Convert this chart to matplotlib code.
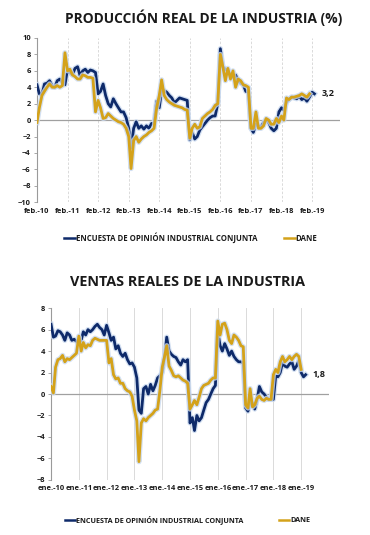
import matplotlib
matplotlib.use("Agg")
import matplotlib.pyplot as plt
import matplotlib.patheffects as pe
import pandas as pd

plt.rcParams['font.family'] = ['Open Sans', 'DejaVu Sans']

# --- Producción real de la industria (%), mensual desde feb.-10 ---
prod_eoic = [
    4.3, 3.2, 3.1, 4.4, 4.5, 4.8, 4.2, 4.0, 4.8, 5.0, 4.5, 4.3,        # feb-10 .. ene-11
    6.2, 5.8, 5.5, 6.3, 6.5, 5.4, 6.0, 6.2, 5.8, 6.1, 6.0, 5.8,        # feb-11 .. ene-12
    3.2, 3.5, 4.4, 3.0, 2.0, 1.6, 2.6, 2.0, 1.5, 1.0, 1.0, 0.3,        # feb-12 .. ene-13
    -1.0, -3.4, -1.0, -0.2, -1.0, -0.7, -1.1, -0.7, -1.0, -0.4, -0.5, 2.3,
    1.5, 3.6, 3.6, 3.4, 3.0, 2.7, 2.1, 2.4, 2.7, 2.6, 2.5, 2.4,
    -2.4, -1.5, -2.3, -2.0, -1.2, -0.8, -0.4, 0.0, 0.3, 0.5, 0.5, 2.0,
    8.7, 6.5, 6.2, 6.0, 5.5, 5.2, 5.5, 4.8, 4.5, 4.3, 3.5, 3.4,
    -1.0, -1.5, -0.5, -0.7, -0.8, -0.3, 0.0, -0.3, -1.0, -1.3, -1.0, 1.0,
    1.5, 1.2, 2.2, 2.5, 2.8, 2.7, 2.6, 2.9, 2.5, 2.7, 2.3, 2.8,
    3.4, 3.2,                                                          # feb-19 .. mar-19
]
prod_dane = [
    -0.3, 1.5, 3.0, 3.5, 4.0, 4.4, 4.0, 4.0, 4.2, 4.0, 4.2, 8.2,
    6.0, 6.2, 5.5, 5.3, 5.0, 5.0, 5.5, 5.4, 5.2, 5.2, 5.1, 1.0,
    2.4, 1.5, 0.2, 0.3, 0.8, 0.5, 0.2, 0.0, -0.2, -0.3, -0.5, -1.0,
    -2.0, -5.9, -2.5, -2.0, -2.7, -2.3, -2.0, -1.8, -1.5, -1.3, -1.0, 1.5,
    3.0, 4.9, 3.0, 2.5, 2.2, 2.0, 1.8, 1.7, 1.6, 1.5, 1.3, 1.2,
    -2.2, -1.0, -0.5, -1.0, -0.8, 0.2, 0.5, 0.8, 1.0, 1.3, 1.8, 2.0,
    8.0, 6.5, 4.8, 6.3, 5.0, 6.0, 4.0, 5.0, 4.8, 4.3, 4.2, 4.0,
    -1.0, -1.0, 1.0, -1.0, -1.0, -0.7, 0.2, 0.0, -0.5, -0.5, 0.2, -0.3,
    0.5, 0.0, 2.7, 2.5, 2.8, 2.8, 2.9, 3.0, 3.2, 3.0, 2.8, 3.2,
]

# --- Ventas reales de la industria (%), mensual desde ene.-10 ---
ventas_eoic = [
    6.5, 5.3, 5.4, 5.9, 5.8, 5.5, 5.0, 5.7, 5.5, 5.0, 5.1, 4.9,
    4.8, 5.0, 5.8, 5.5, 6.0, 5.8, 6.0, 6.3, 6.5, 6.2, 6.0, 5.5,
    6.4, 5.7, 5.0, 5.3, 4.2, 4.5, 3.8, 3.5, 3.8, 3.2, 2.8, 2.9,
    2.5, 1.5, -1.5, -1.8, 0.5, 0.7, 0.0, 0.9, 0.3, 0.8, 1.5, 1.7,
    2.0, 3.5, 5.3, 4.0, 3.7, 3.5, 3.4, 3.0, 2.7, 3.2, 3.0, 3.2,
    -2.7, -2.2, -3.4, -2.0, -2.5, -2.2, -1.5, -0.8, -0.5, 0.0, 0.5, 0.8,
    5.8, 4.5, 4.0, 4.7, 4.2, 3.6, 4.0, 3.5, 3.2, 3.0, 3.0, 2.9,
    -1.3, -1.6, -0.7, -0.8, -1.4, -0.5, 0.7, 0.2, 0.0, -0.3, -0.5, -0.5,
    -0.5, 1.7, 1.6, 2.0, 2.9, 2.6, 2.5, 2.8, 3.0, 2.3, 2.6, 3.1,
    2.0, 1.6, 1.8,
]
ventas_dane = [
    0.7, 0.1, 2.5, 3.2, 3.3, 3.6, 3.0, 3.3, 3.2, 3.4, 3.6, 3.8,
    5.4, 4.0, 4.8, 4.3, 4.6, 4.5, 5.0, 5.2, 5.1, 5.0, 5.0, 5.0,
    5.0, 2.9, 3.3, 1.8, 1.4, 1.5, 1.0, 1.0, 0.5, 0.3, 0.2, -0.2,
    -1.5, -2.5, -6.3, -2.7, -2.3, -2.5, -2.2, -2.0, -1.8, -1.5, -1.4, 0.3,
    2.5, 3.5, 4.5, 2.6, 2.2, 1.7, 1.6, 1.7, 1.5, 1.3, 1.2, 1.0,
    -1.4, -1.0, -0.6, -1.0, -0.3, 0.5, 0.8, 0.9, 1.0, 1.3, 1.5, 1.5,
    6.8, 5.5, 6.5, 6.6, 6.0, 5.0, 4.7, 5.5, 5.3, 5.0, 4.5, 4.4,
    -1.0, -1.3, 0.5, -1.2, -1.0, -0.4, -0.2, -0.5, -0.6, -0.4, -0.5, -0.5,
    1.8, 2.3, 2.0, 3.0, 3.5, 3.0, 3.2, 3.5, 3.2, 3.5, 3.7, 3.5,
    2.3,
]

NAVY = "#0e2a6a"
GOLD = "#d4a21a"
GLOW = "#c9d9ef"
TXT = "#1a1a1a"

prod_dates_e = pd.date_range("2010-02-01", periods=len(prod_eoic), freq="MS")
prod_dates_d = pd.date_range("2010-02-01", periods=len(prod_dane), freq="MS")
ven_dates_e = pd.date_range("2010-01-01", periods=len(ventas_eoic), freq="MS")
ven_dates_d = pd.date_range("2010-01-01", periods=len(ventas_dane), freq="MS")

fig = plt.figure(figsize=(3.7, 5.35), dpi=100)


def style_axes(ax, ymin, ymax, grid_dates, grid_ls):
    for s in ["top", "right", "bottom"]:
        ax.spines[s].set_visible(False)
    ax.spines["left"].set_color("#9a9a9a")
    ax.spines["left"].set_linewidth(0.8)
    ax.set_ylim(ymin, ymax)
    ax.set_yticks(range(ymin, ymax + 1, 2))
    ax.tick_params(axis="y", length=2.5, width=0.6, color="#9a9a9a", pad=2,
                   labelsize=5.4, labelcolor=TXT)
    ax.tick_params(axis="x", length=0, pad=4, labelsize=5.4, labelcolor=TXT)
    for lab in ax.get_xticklabels() + ax.get_yticklabels():
        lab.set_fontweight("bold")
    for d in grid_dates:
        ax.axvline(d, color="#d4d4d4", lw=0.6, ls=grid_ls, zorder=0)
    ax.axhline(0, color="#a0a0a0", lw=0.9, zorder=1)


def draw(ax, x, y, color):
    ax.plot(x, y, color=color, lw=2.0, zorder=3, solid_joinstyle="round",
            path_effects=[pe.Stroke(linewidth=3.8, foreground=GLOW, alpha=0.8),
                          pe.Normal()])


# ---------------- Producción ----------------
ax1 = fig.add_axes([0.1, 0.622, 0.819, 0.307])
draw(ax1, prod_dates_e, prod_eoic, NAVY)
draw(ax1, prod_dates_d, prod_dane, GOLD)
ax1.set_xlim(pd.Timestamp("2010-02-01"), pd.Timestamp("2020-01-01"))
feb_ticks = pd.date_range("2010-02-01", "2019-02-01", freq="12MS")
ax1.set_xticks(feb_ticks)
ax1.set_xticklabels([f"feb.-{d.year % 100:02d}" for d in feb_ticks])
style_axes(ax1, -10, 10, feb_ticks[1:], (0, (3, 2)))
ax1.annotate("3,2", xy=(prod_dates_e[-1], prod_eoic[-1]), xytext=(5, 0),
             textcoords="offset points", va="center", fontsize=6.5,
             fontweight="bold", color=TXT)

fig.text(0.551, 1 - 18 / 535, "PRODUCCIÓN REAL DE LA INDUSTRIA (%)",
         ha="center", va="center", fontsize=9.9, fontweight="bold", color=TXT)

# ---------------- Ventas ----------------
ax2 = fig.add_axes([0.138, 0.103, 0.751, 0.321])
draw(ax2, ven_dates_e, ventas_eoic, NAVY)
draw(ax2, ven_dates_d, ventas_dane, GOLD)
ax2.set_xlim(pd.Timestamp("2010-01-01"), pd.Timestamp("2020-01-01"))
ene_ticks = pd.date_range("2010-01-01", "2019-01-01", freq="12MS")
ax2.set_xticks(ene_ticks)
ax2.set_xticklabels([f"ene.-{d.year % 100:02d}" for d in ene_ticks])
style_axes(ax2, -8, 8, pd.date_range("2011-01-01", "2020-01-01", freq="12MS"), "-")
ax2.annotate("1,8", xy=(ven_dates_e[-1], ventas_eoic[-1]), xytext=(5, 0),
             textcoords="offset points", va="center", fontsize=6.5,
             fontweight="bold", color=TXT)

fig.text(0.508, 1 - 282 / 535, "VENTAS REALES DE LA INDUSTRIA",
         ha="center", va="center", fontsize=10.4, fontweight="bold", color=TXT)

# ---------------- Leyendas ----------------
legend_specs = [(0.516, 1 - 238 / 535, 5.6, 3.4), (0.507, 1 - 520 / 535, 5.2, 5.0)]
for cx, cy, fs, gap in legend_specs:
    h = [plt.Line2D([], [], color=NAVY, lw=1.8), plt.Line2D([], [], color=GOLD, lw=1.8)]
    leg = fig.legend(h, ["ENCUESTA DE OPINIÓN INDUSTRIAL CONJUNTA", "DANE"],
                     loc="center", bbox_to_anchor=(cx, cy), ncol=2,
                     frameon=False, handlelength=1.4, handletextpad=0.1,
                     columnspacing=gap, prop={"size": fs, "weight": "bold"})
    for t in leg.get_texts():
        t.set_color(TXT)

fig.savefig("out.png", dpi=100)
